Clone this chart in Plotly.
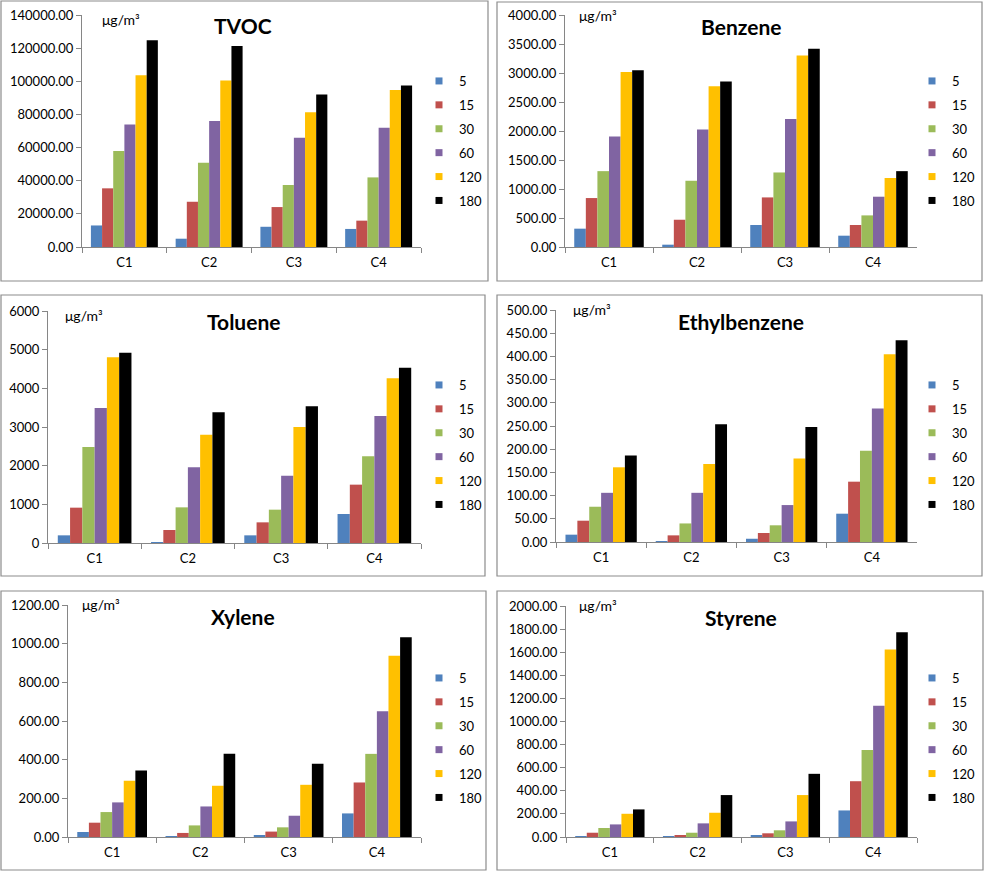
import plotly.graph_objects as go

W, H = 984, 872

categories = ["C1", "C2", "C3", "C4"]
series_names = ["5", "15", "30", "60", "120", "180"]
series_colors = ["#4F81BD", "#C0504D", "#9BBB59", "#8064A2", "#FFC000", "#000000"]

# values: one row per series (5,15,30,60,120,180), one column per category (C1..C4)
tvoc = [
    [13000, 5000, 12200, 10900],
    [35400, 27300, 24100, 15900],
    [58000, 50800, 37400, 42000],
    [73900, 76100, 65900, 71900],
    [103600, 100400, 81300, 94800],
    [124700, 121300, 92000, 97400],
]
benzene = [
    [316, 40, 379, 195],
    [844, 470, 855, 379],
    [1308, 1142, 1285, 545],
    [1905, 2026, 2209, 867],
    [3019, 2772, 3300, 1188],
    [3047, 2852, 3420, 1308],
]
toluene = [
    [198, 15, 198, 750],
    [914, 336, 534, 1509],
    [2483, 922, 862, 2241],
    [3491, 1957, 1741, 3284],
    [4802, 2802, 3000, 4259],
    [4922, 3379, 3534, 4534],
]
ethylbenzene = [
    [15.8, 1.5, 7.0, 61],
    [45.9, 14.3, 19.4, 130],
    [76, 40, 36, 196.6],
    [106, 106, 79.6, 287.7],
    [161, 168, 180, 404.6],
    [186.5, 254, 248, 434.7],
]
xylene = [
    [26, 5, 10, 122],
    [74, 21, 28, 282],
    [129, 60, 50, 430],
    [179, 158, 110, 651],
    [291, 265, 270, 937],
    [344, 430, 379, 1033],
]
styrene = [
    [6, 3, 12, 230],
    [37, 9, 32, 483],
    [78, 37, 58, 754],
    [109, 118, 135, 1137],
    [201, 210, 363, 1623],
    [239, 363, 547, 1773],
]

titles = ["TVOC", "Benzene", "Toluene", "Ethylbenzene", "Xylene", "Styrene"]
datasets = [tvoc, benzene, toluene, ethylbenzene, xylene, styrene]
y_max = [140000, 4000, 6000, 500, 1200, 2000]
y_dtick = [20000, 500, 1000, 50, 200, 200]
y_format = [".2f", ".2f", "d", ".2f", ".2f", ".2f"]
unit_label = "μg/m³"

# layout (pixels): plot area [x0, x1, y0(top), y1(bottom)], border box, title centre, unit pos
plot_px = [
    (82, 421, 15, 247),
    (565, 917, 15, 247),
    (48, 421, 311, 543),
    (556, 917, 310, 542),
    (68, 421, 605, 837),
    (566, 917, 606, 837),
]
border_px = [
    (1, 488, 1, 281),
    (497, 982, 2, 281),
    (1, 485, 295, 576),
    (497, 982, 295, 576),
    (1, 486, 591, 870),
    (497, 983, 591, 870),
]
title_px = [(243, 26), (741, 27), (243, 322), (741, 322), (243, 616), (741, 617)]
unit_px = [(100, 20), (577, 15), (63, 316), (571, 310), (80, 604), (577, 605)]
legend_px = [(419, 66), (912, 66), (419, 370), (912, 370), (419, 663), (912, 663)]

FONT = "Lato, Open Sans, sans-serif"

def px_x(v):
    return v / W

def px_y(v):
    return 1 - v / H

fig = go.Figure()
layout = dict(
    width=W, height=H, margin=dict(l=0, r=0, t=0, b=0, pad=0, autoexpand=False),
    paper_bgcolor="white", plot_bgcolor="white",
    barmode="group", bargap=0.21, bargroupgap=0,
    font=dict(family=FONT, size=13, color="#000000"),
    showlegend=True,
)
shapes = []
annotations = []

for i, (title, data) in enumerate(zip(titles, datasets)):
    n = i + 1
    xa = "x" if n == 1 else f"x{n}"
    ya = "y" if n == 1 else f"y{n}"
    lg = "legend" if n == 1 else f"legend{n}"
    for s, (name, color) in enumerate(zip(series_names, series_colors)):
        fig.add_trace(go.Bar(
            x=categories, y=data[s], name=name,
            marker=dict(color=color, line=dict(width=0)),
            xaxis=xa, yaxis=ya, showlegend=False,
            legendgroup=f"p{n}s{s}",
        ))
        # legend key (small square, like the spreadsheet legend)
        fig.add_trace(go.Scatter(
            x=[None], y=[None], mode="markers", name=name,
            marker=dict(symbol="square", size=7, color=color),
            xaxis=xa, yaxis=ya, legend=lg, legendgroup=f"p{n}s{s}",
            showlegend=True, hoverinfo="skip",
        ))
    x0, x1, y0, y1 = plot_px[i]
    axis_common = dict(showline=True, linecolor="#868686", linewidth=1,
                       ticks="outside", tickcolor="#868686", ticklen=5,
                       showgrid=False, zeroline=False,
                       tickfont=dict(family=FONT, size=13, color="#000000"))
    layout[f"xaxis{'' if n == 1 else n}"] = dict(
        domain=[px_x(x0), px_x(x1)], anchor=ya, type="category",
        categoryorder="array", categoryarray=categories,
        tickson="boundaries", fixedrange=True, ticklabelstandoff=3,
        **axis_common)
    layout[f"yaxis{'' if n == 1 else n}"] = dict(
        domain=[px_y(y1), px_y(y0)], anchor=xa, range=[0, y_max[i]],
        dtick=y_dtick[i], tick0=0, tickformat=y_format[i], fixedrange=True,
        **axis_common)
    lx, ly = legend_px[i]
    layout[lg] = dict(
        x=px_x(lx), y=px_y(ly), xanchor="left", yanchor="top",
        font=dict(family=FONT, size=13, color="#000000"),
        traceorder="grouped", tracegroupgap=4, itemwidth=30,
        itemsizing="trace",
        bgcolor="rgba(0,0,0,0)", borderwidth=0,
    )
    bx0, bx1, by0, by1 = border_px[i]
    shapes.append(dict(type="rect", xref="paper", yref="paper",
                       x0=px_x(bx0), x1=px_x(bx1), y0=px_y(by1), y1=px_y(by0),
                       line=dict(color="#8C8C8C", width=1.2), fillcolor="rgba(0,0,0,0)"))
    tx, ty = title_px[i]
    annotations.append(dict(text=f"<b>{title}</b>", xref="paper", yref="paper",
                            x=px_x(tx), y=px_y(ty), xanchor="center", yanchor="middle",
                            showarrow=False, font=dict(family=FONT, size=21, color="#000000")))
    ux, uy = unit_px[i]
    annotations.append(dict(text=unit_label, xref="paper", yref="paper",
                            x=px_x(ux), y=px_y(uy), xanchor="left", yanchor="middle",
                            showarrow=False, font=dict(family=FONT, size=14, color="#000000")))

layout["shapes"] = shapes
layout["annotations"] = annotations
fig.update_layout(**layout)
fig.write_html("out.html",
               config={"displayModeBar": False},
               post_script="document.body.style.margin='0';document.body.style.overflow='hidden';")
